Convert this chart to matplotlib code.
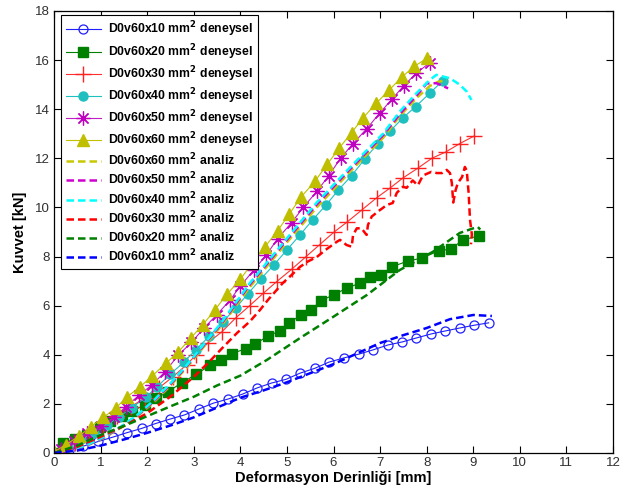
import matplotlib
matplotlib.use("Agg")
import matplotlib.pyplot as plt

plt.rcParams['font.family'] = ['Liberation Sans', 'DejaVu Sans']

# ---- experimental series (deneysel) ----
x10 = [0, 0.32, 0.63, 0.95, 1.27, 1.57, 1.88, 2.18, 2.49, 2.8, 3.12, 3.42, 3.74, 4.05, 4.36, 4.67,
       4.98, 5.28, 5.6, 5.9, 6.22, 6.55, 6.85, 7.17, 7.47, 7.77, 8.1, 8.4, 8.71, 9.01, 9.33]
y10 = [0, 0.12, 0.28, 0.47, 0.65, 0.83, 1.0, 1.2, 1.38, 1.55, 1.8, 2.03, 2.2, 2.4, 2.65, 2.85,
       3.0, 3.25, 3.45, 3.7, 3.87, 4.03, 4.2, 4.4, 4.52, 4.68, 4.85, 4.97, 5.09, 5.2, 5.3]

x20 = [0, 0.2, 0.45, 0.7, 0.98, 1.2, 1.45, 1.68, 1.95, 2.2, 2.45, 2.75, 3.05, 3.35, 3.58, 3.82,
       4.12, 4.32, 4.6, 4.85, 5.05, 5.3, 5.52, 5.73, 6.0, 6.29, 6.57, 6.78, 7.02, 7.25, 7.6, 7.9,
       8.26, 8.52, 8.78, 9.12]
y20 = [0, 0.42, 0.55, 0.75, 1.05, 1.3, 1.5, 1.72, 1.95, 2.23, 2.5, 2.87, 3.2, 3.57, 3.8, 4.05,
       4.25, 4.44, 4.77, 4.97, 5.3, 5.62, 5.82, 6.2, 6.44, 6.72, 6.92, 7.17, 7.25, 7.58, 7.82, 7.94,
       8.23, 8.31, 8.68, 8.84]

x30 = [0, 0.15, 0.45, 0.75, 1.05, 1.35, 1.65, 1.95, 2.25, 2.55, 2.85, 3.05, 3.3, 3.6, 3.9, 4.2,
       4.49, 4.78, 5.1, 5.4, 5.7, 6.0, 6.3, 6.61, 6.93, 7.22, 7.49, 7.81, 8.11, 8.41, 8.71, 9.01]
y30 = [0, 0.1, 0.4, 0.75, 1.1, 1.5, 1.88, 2.25, 2.65, 3.1, 3.6, 4.0, 4.48, 4.93, 5.5, 6.0,
       6.5, 6.98, 7.48, 7.98, 8.48, 8.98, 9.42, 9.9, 10.4, 10.8, 11.2, 11.6, 12.0, 12.26, 12.6, 12.9]

x40 = [0, 0.3, 0.58, 0.86, 1.14, 1.39, 1.67, 1.97, 2.21, 2.5, 2.79, 3.04, 3.33, 3.62, 3.9, 4.16,
       4.44, 4.72, 5.0, 5.28, 5.55, 5.84, 6.1, 6.39, 6.67, 6.95, 7.21, 7.49, 7.76, 8.07, 8.34]
y40 = [0, 0.25, 0.55, 0.82, 1.14, 1.47, 1.83, 2.28, 2.69, 3.22, 3.7, 4.2, 4.75, 5.34, 5.9, 6.48,
       7.09, 7.66, 8.27, 8.88, 9.49, 10.1, 10.7, 11.3, 11.97, 12.6, 13.1, 13.65, 14.1, 14.66, 15.15]

x50 = [0, 0.15, 0.43, 0.71, 1.0, 1.28, 1.54, 1.83, 2.1, 2.38, 2.67, 2.95, 3.22, 3.49, 3.78, 4.0,
       4.29, 4.56, 4.8, 5.1, 5.35, 5.64, 5.9, 6.15, 6.42, 6.71, 7.0, 7.25, 7.51, 7.78, 8.07]
y50 = [0, 0.15, 0.5, 0.8, 1.08, 1.45, 1.88, 2.36, 2.77, 3.3, 3.99, 4.5, 5.09, 5.62, 6.23, 6.8,
       7.45, 8.07, 8.73, 9.38, 10.0, 10.65, 11.3, 12.0, 12.6, 13.2, 13.86, 14.4, 14.96, 15.47, 15.9]

x60 = [0, 0.25, 0.54, 0.79, 1.06, 1.32, 1.57, 1.85, 2.11, 2.4, 2.66, 2.93, 3.19, 3.45, 3.72, 4.0,
       4.26, 4.53, 4.8, 5.05, 5.31, 5.6, 5.87, 6.12, 6.39, 6.64, 6.92, 7.2, 7.46, 7.73, 8.0]
y60 = [0.05, 0.33, 0.69, 1.07, 1.45, 1.82, 2.29, 2.7, 3.14, 3.65, 4.1, 4.67, 5.21, 5.82, 6.48, 7.07,
       7.75, 8.4, 9.05, 9.73, 10.44, 11.06, 11.77, 12.41, 13.05, 13.66, 14.25, 14.79, 15.3, 15.74, 16.07]

# ---- analysis series (analiz) ----
xa60 = [0, 0.36, 0.71, 1.07, 1.43, 1.79, 2.15, 2.5, 2.86, 3.29, 3.6, 4.2, 4.92, 5.64, 6.35, 7.07,
        7.42, 7.78, 8.07, 8.25, 8.43]
ya60 = [0, 0.1, 0.3, 0.62, 1.02, 1.5, 2.08, 2.75, 3.5, 4.5, 5.2, 6.75, 8.4, 10.0, 11.45, 12.85,
        13.72, 14.45, 14.95, 15.12, 15.18]

xa50 = [0, 0.36, 0.71, 1.07, 1.43, 1.79, 2.15, 2.5, 2.86, 3.29, 3.6, 4.2, 4.92, 5.64, 6.35, 7.07,
        7.42, 7.78, 8.0, 8.21, 8.46]
ya50 = [0, 0.11, 0.32, 0.64, 1.05, 1.53, 2.12, 2.8, 3.56, 4.56, 5.28, 6.85, 8.5, 10.12, 11.55, 12.95,
        13.8, 14.55, 15.05, 15.06, 14.85]

xa40 = [0, 0.36, 0.71, 1.07, 1.43, 1.79, 2.15, 2.5, 2.86, 3.29, 3.6, 4.2, 4.92, 5.64, 6.35, 7.07,
        7.42, 7.78, 8.07, 8.21, 8.5, 8.71, 8.86, 8.96]
ya40 = [0, 0.12, 0.33, 0.66, 1.07, 1.55, 2.16, 2.84, 3.6, 4.6, 5.33, 6.91, 8.56, 10.2, 11.62, 13.02,
        13.9, 14.65, 15.2, 15.4, 15.26, 15.0, 14.72, 14.38]

xa30 = [0, 0.5, 1.0, 1.5, 2.0, 2.5, 3.0, 3.35, 3.6, 3.93, 4.2, 4.42, 4.6, 4.91, 5.1, 5.28, 5.45,
        5.64, 5.85, 6.07, 6.14, 6.28, 6.39, 6.42, 6.5, 6.6, 6.71, 6.74, 6.82, 7.0, 7.06, 7.14, 7.27,
        7.36, 7.49, 7.57, 7.7, 7.81, 7.92, 8.1, 8.22, 8.33, 8.43, 8.5, 8.54, 8.57, 8.62, 8.67, 8.76,
        8.82, 8.86, 8.9, 8.93, 8.97, 8.95]
ya30 = [0, 0.25, 0.66, 1.1, 1.62, 2.3, 3.1, 3.75, 4.25, 4.89, 5.35, 5.82, 6.25, 6.92, 7.25, 7.58, 7.8,
        7.98, 8.3, 8.6, 8.68, 8.47, 8.4, 8.88, 9.15, 9.15, 8.88, 9.29, 9.63, 9.9, 9.98, 10.1, 10.18,
        10.6, 10.84, 10.8, 11.1, 10.9, 11.3, 11.45, 11.4, 11.4, 11.53, 11.4, 11.0, 10.2, 10.7, 11.0, 11.24,
        11.65, 11.5, 10.6, 9.5, 8.9, 8.5]

xa20 = [0, 0.5, 1.0, 1.5, 2.0, 2.5, 3.0, 3.5, 4.0, 4.57, 5.28, 5.99, 6.72, 7.42, 8.13, 8.71, 9.0,
        9.1, 9.15]
ya20 = [0, 0.3, 0.73, 1.1, 1.5, 1.9, 2.29, 2.75, 3.15, 3.79, 4.68, 5.54, 6.44, 7.45, 8.19, 8.96, 9.15,
        9.2, 9.1]

xa10 = [0, 0.5, 1.0, 1.5, 2.0, 2.5, 3.0, 3.5, 4.0, 4.5, 5.0, 5.5, 6.0, 6.5, 7.0, 7.5, 8.0, 8.5,
        9.0, 9.4]
ya10 = [0, 0.1, 0.3, 0.55, 0.82, 1.12, 1.45, 1.85, 2.25, 2.55, 2.88, 3.25, 3.62, 4.05, 4.48, 4.8,
        5.09, 5.45, 5.62, 5.58]

fig = plt.figure(figsize=(6.31, 4.91), dpi=100)
ax = fig.add_axes([0.0856, 0.0774, 0.8859, 0.9002])

lw_exp = 0.8
ms = 6.5
asterisk = (8, 2, 0)
ax.plot(x10, y10, '-', color='#1f1fff', lw=lw_exp, marker='o', mfc='none', mec='#1f1fff',
        ms=ms, mew=0.9, label=r'D0v60x10 mm$^\mathbf{2}$ deneysel')
ax.plot(x20, y20, '-', color='#008000', lw=lw_exp, marker='s', mfc='#008000', mec='#008000',
        ms=ms, label=r'D0v60x20 mm$^\mathbf{2}$ deneysel')
ax.plot(x30, y30, '-', color='#ff3030', lw=lw_exp, marker='+', mec='#ff2020',
        ms=11, mew=1.0, label=r'D0v60x30 mm$^\mathbf{2}$ deneysel')
ax.plot(x40, y40, '-', color='#20c0c0', lw=lw_exp, marker='o', mfc='#20bfbf', mec='#20bfbf',
        ms=ms, label=r'D0v60x40 mm$^\mathbf{2}$ deneysel')
ax.plot(x50, y50, '-', color='#c020c0', lw=lw_exp, marker=asterisk, mfc='#c000c0', mec='#c000c0',
        ms=10, mew=0.9, label=r'D0v60x50 mm$^\mathbf{2}$ deneysel')
ax.plot(x60, y60, '-', color='#c0c000', lw=lw_exp, marker='^', mfc='#bfbf00', mec='#bfbf00',
        ms=ms + 1.5, label=r'D0v60x60 mm$^\mathbf{2}$ deneysel')

lw_an = 1.8
dash = (0, (3.0, 1.6))
ax.plot(xa60, ya60, color='#c8c800', lw=lw_an, ls=dash, label=r'D0v60x60 mm$^\mathbf{2}$ analiz')
ax.plot(xa50, ya50, color='#d000d0', lw=lw_an, ls=dash, label=r'D0v60x50 mm$^\mathbf{2}$ analiz')
ax.plot(xa40, ya40, color='#00ffff', lw=lw_an, ls=dash, label=r'D0v60x40 mm$^\mathbf{2}$ analiz')
ax.plot(xa30, ya30, color='#ff0000', lw=lw_an, ls=dash, label=r'D0v60x30 mm$^\mathbf{2}$ analiz')
ax.plot(xa20, ya20, color='#008000', lw=lw_an, ls=dash, label=r'D0v60x20 mm$^\mathbf{2}$ analiz')
ax.plot(xa10, ya10, color='#0000ff', lw=lw_an, ls=dash, label=r'D0v60x10 mm$^\mathbf{2}$ analiz')

ax.set_xlim(0, 12)
ax.set_ylim(0, 18)
ax.set_xticks(range(0, 13))
ax.set_yticks(range(0, 19, 2))
ax.tick_params(direction='in', length=5, width=0.8, top=True, right=True,
               labelsize=9.5, labelcolor='#303030', pad=3)
for s in ax.spines.values():
    s.set_linewidth(0.9)

ax.set_xlabel('Deformasyon Derinliği [mm]', fontsize=10.5, fontweight='bold', labelpad=1)
ax.set_ylabel('Kuvvet [kN]', fontsize=10.5, fontweight='bold', labelpad=6)

leg = ax.legend(loc='upper left', bbox_to_anchor=(0.012, 0.991), borderaxespad=0,
                fancybox=False, edgecolor='black', framealpha=1, handlelength=2.9,
                handletextpad=0.55, labelspacing=0.2, borderpad=0.4,
                prop={'weight': 'bold', 'size': 8.8})
leg.get_frame().set_linewidth(0.8)

fig.savefig('out.png', dpi=100)
